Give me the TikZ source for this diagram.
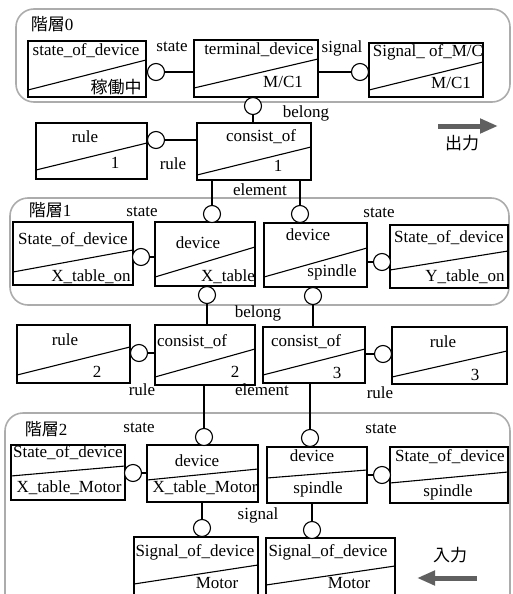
\documentclass[tikz,border=0pt]{standalone}
\usepackage{fontspec}
\setmainfont{Liberation Serif}
\newfontfamily\jpfont{Noto Sans CJK JP}
\usetikzlibrary{fit,arrows.meta}
\tikzset{
  ebox/.style={draw, line width=1.1pt, inner sep=0pt},
  slash/.style={line width=1.1pt},
  conn/.style={draw, circle, line width=1.1pt, minimum size=17pt, inner sep=0pt, fill=white},
  link/.style={line width=1.1pt},
  lbl/.style={font=\fontsize{17}{18}\selectfont, inner sep=0pt},
  layer/.style={draw=gray!65, line width=1.6pt, rounded corners=18pt},
  bigarrow/.style={line width=5pt, draw=gray!75!black, -{Triangle[length=18pt,width=14pt]}}
}
% box with the slanted divider: name, x1, y1, x2, y2, left y, right y
\newcommand{\objbox}[7]{%
  \node[ebox, fit={(#2,#3) (#4,#5)}] (#1) {};
  \draw[slash] (#2,#6) -- (#4,#7);}

\begin{document}
\begin{tikzpicture}[x=1pt,y=-1pt]
  \useasboundingbox (0,0) rectangle (512,594);
  \clip (0,0) rectangle (512,594);

  % layer frames
  \draw[layer] (16,9) rectangle (510,102);
  \draw[layer] (10,198) rectangle (509,305);
  \draw[layer] (5,413) rectangle (510,620);
  \node[lbl] (lay0) at (52,24) {{\jpfont 階層}0};
  \node[lbl] (lay1) at (50,210) {{\jpfont 階層}1};
  \node[lbl] (lay2) at (46,429) {{\jpfont 階層}2};

  % layer 0
  \objbox{sod0}{28}{41}{146}{97}{90}{60}
  \objbox{td0}{194}{40}{318}{97}{88}{59}
  \objbox{som0}{369}{43}{483}{97}{90}{62}
  \node[lbl] (sod0-t) at (86,51) {state\_of\_device};
  \node[lbl] (sod0-b) at (116,87) {\jpfont 稼働中};
  \node[lbl] (td0-t) at (259,50) {terminal\_device};
  \node[lbl] (td0-b) at (283,82) {M/C1};
  \node[lbl] (som0-t) at (428,52) {Signal\_ of\_M/C};
  \node[lbl] (som0-b) at (451,83) {M/C1};

  % rule / consist_of 1
  \objbox{rule1}{36}{123}{147}{179}{170}{143}
  \objbox{cons1}{197}{123}{311}{180}{175}{147}
  \node[lbl] (rule1-t) at (85,137) {rule};
  \node[lbl] (rule1-b) at (115,163) {1};
  \node[lbl] (cons1-t) at (261,137) {consist\_of};
  \node[lbl] (cons1-b) at (278,166) {1};

  % layer 1
  \objbox{sod1a}{13}{222}{133}{285}{272}{250}
  \objbox{dxt1}{155}{222}{255}{286}{277}{247}
  \objbox{dsp1}{264}{223}{367}{287}{277}{248}
  \objbox{sod1b}{390}{225}{508}{288}{270}{251}
  \node[lbl] (sod1a-t) at (73,240) {State\_of\_device};
  \node[lbl] (sod1a-b) at (91,277) {X\_table\_on};
  \node[lbl] (dxt1-t) at (198,243) {device};
  \node[lbl] (dxt1-b) at (228,277) {X\_table};
  \node[lbl] (dsp1-t) at (308,235) {device};
  \node[lbl] (dsp1-b) at (332,272) {spindle};
  \node[lbl] (sod1b-t) at (449,238) {State\_of\_device};
  \node[lbl] (sod1b-b) at (465,277) {Y\_table\_on};

  % rule / consist_of 2, 3
  \objbox{rule2}{17}{325}{130}{383}{375}{347}
  \objbox{cons2}{155}{325}{255}{385}{377}{349}
  \objbox{cons3}{263}{327}{365}{383}{375}{349}
  \objbox{rule3}{392}{327}{507}{384}{377}{351}
  \node[lbl] (rule2-t) at (65,340) {rule};
  \node[lbl] (rule2-b) at (97,372) {2};
  \node[lbl] (cons2-t) at (192,342) {consist\_of};
  \node[lbl] (cons2-b) at (235,372) {2};
  \node[lbl] (cons3-t) at (306,342) {consist\_of};
  \node[lbl] (cons3-b) at (337,373) {3};
  \node[lbl] (rule3-t) at (443,342) {rule};
  \node[lbl] (rule3-b) at (475,375) {3};

  % layer 2
  \objbox{sod2a}{11}{445}{125}{500}{476}{466}
  \objbox{dxm2}{147}{445}{258}{502}{480}{469}
  \objbox{dsp2}{267}{447}{367}{503}{478}{470}
  \objbox{sod2b}{390}{447}{508}{503}{483}{472}
  \objbox{sig2a}{134}{537}{258}{600}{584}{565}
  \objbox{sig2b}{266}{538}{395}{600}{585}{566}
  \node[lbl] (sod2a-t) at (68,453) {State\_of\_device};
  \node[lbl] (sod2a-b) at (69,488) {X\_table\_Motor};
  \node[lbl] (dxm2-t) at (197,461) {device};
  \node[lbl] (dxm2-b) at (205,488) {X\_table\_Motor};
  \node[lbl] (dsp2-t) at (312,456) {device};
  \node[lbl] (dsp2-b) at (318,489) {spindle};
  \node[lbl] (sod2b-t) at (450,457) {State\_of\_device};
  \node[lbl] (sod2b-b) at (448,492) {spindle};
  \node[lbl] (sig2a-t) at (195,552) {Signal\_of\_device};
  \node[lbl] (sig2a-b) at (217,583) {Motor};
  \node[lbl] (sig2b-t) at (328,552) {Signal\_of\_device};
  \node[lbl] (sig2b-b) at (349,583) {Motor};

  % connector circles
  \node[conn] (cst0) at (156,72) {};
  \node[conn] (csg0) at (360,72) {};
  \node[conn] (cbl0) at (253,106) {};
  \node[conn] (crl1) at (156,140) {};
  \node[conn] (cel1a) at (212,214) {};
  \node[conn] (cel1b) at (300,214) {};
  \node[conn] (cst1a) at (141,257) {};
  \node[conn] (cst1b) at (382,262) {};
  \node[conn] (cbl1a) at (207,295) {};
  \node[conn] (cbl1b) at (313,296) {};
  \node[conn] (crl2a) at (139,353) {};
  \node[conn] (crl2b) at (383,354) {};
  \node[conn] (cel2a) at (204,437) {};
  \node[conn] (cel2b) at (310,438) {};
  \node[conn] (cst2a) at (133,473) {};
  \node[conn] (cst2b) at (382,475) {};
  \node[conn] (csg2a) at (202,528) {};
  \node[conn] (csg2b) at (312,530) {};

  % connectors
  \draw[link] (cst0) -- (cst0 -| td0.west);
  \draw[link] (td0.east |- csg0) -- (csg0);
  \draw[link] (cbl0) -- (cbl0 |- cons1.north);
  \draw[link] (crl1) -- (crl1 -| cons1.west);
  \draw[link] (cons1.south -| cel1a) -- (cel1a);
  \draw[link] (cons1.south -| cel1b) -- (cel1b);
  \draw[link] (cst1a) -- (cst1a -| dxt1.west);
  \draw[link] (dsp1.east |- cst1b) -- (cst1b);
  \draw[link] (cbl1a) -- (cbl1a |- cons2.north);
  \draw[link] (cbl1b) -- (cbl1b |- cons3.north);
  \draw[link] (crl2a) -- (crl2a -| cons2.west);
  \draw[link] (cons3.east |- crl2b) -- (crl2b);
  \draw[link] (cons2.south -| cel2a) -- (cel2a);
  \draw[link] (cons3.south -| cel2b) -- (cel2b);
  \draw[link] (cst2a) -- (cst2a -| dxm2.west);
  \draw[link] (dsp2.east |- cst2b) -- (cst2b);
  \draw[link] (dxm2.south -| csg2a) -- (csg2a);
  \draw[link] (dsp2.south -| csg2b) -- (csg2b);

  % connector labels
  \node[lbl] (l-st0) at (172,47) {state};
  \node[lbl] (l-sg0) at (342,48) {signal};
  \node[lbl] (l-bl0) at (306,113) {belong};
  \node[lbl] (l-rl1) at (173,164) {rule};
  \node[lbl] (l-el1) at (260,190) {element};
  \node[lbl] (l-st1a) at (142,212) {state};
  \node[lbl] (l-st1b) at (379,213) {state};
  \node[lbl] (l-bl1) at (258,313) {belong};
  \node[lbl] (l-rl2a) at (142,390) {rule};
  \node[lbl] (l-el2) at (262,390) {element};
  \node[lbl] (l-rl2b) at (380,393) {rule};
  \node[lbl] (l-st2a) at (139,428) {state};
  \node[lbl] (l-st2b) at (381,429) {state};
  \node[lbl] (l-sg2) at (258,515) {signal};

  % output / input arrows
  \coordinate (out-s) at (438,126);
  \coordinate (out-e) at (498,126);
  \draw[bigarrow] (out-s) -- (out-e);
  \node[lbl] (l-out) at (462,143) {\jpfont 出力};
  \coordinate (in-s) at (477,578);
  \coordinate (in-e) at (417,578);
  \draw[bigarrow] (in-s) -- (in-e);
  \node[lbl] (l-in) at (450,555) {\jpfont 入力};
\end{tikzpicture}
\end{document}
